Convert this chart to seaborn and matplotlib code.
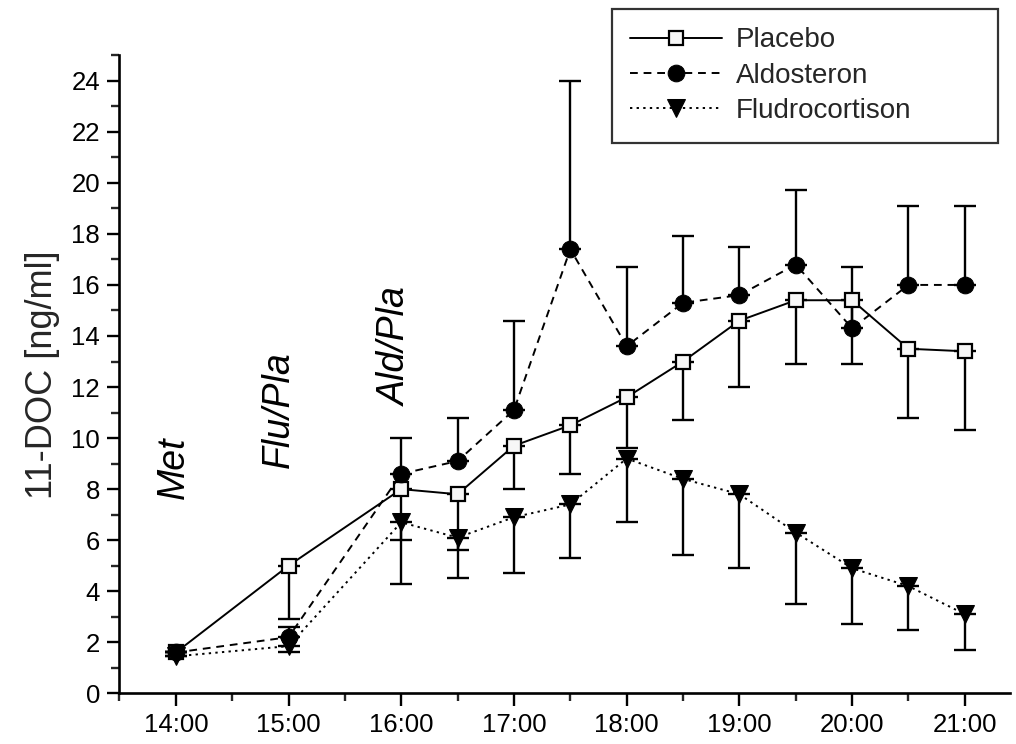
import numpy as np
import pandas as pd
import seaborn as sns
import matplotlib.pyplot as plt
from matplotlib.ticker import MultipleLocator, FuncFormatter

# hours after midnight
times = [14, 15, 16, 16.5, 17, 17.5, 18, 18.5, 19, 19.5, 20, 20.5, 21]

placebo = [1.6, 5.0, 8.0, 7.8, 9.7, 10.5, 11.6, 13.0, 14.6, 15.4, 15.4, 13.5, 13.4]
placebo_low = [1.6, 2.9, 6.0, 5.6, 8.0, 8.6, 9.6, 10.7, 12.0, 12.9, 12.9, 10.8, 10.3]

aldosteron = [1.6, 2.2, 8.6, 9.1, 11.1, 17.4, 13.6, 15.3, 15.6, 16.8, 14.3, 16.0, 16.0]
aldosteron_up = [1.6, 2.6, 10.0, 10.8, 14.6, 24.0, 16.7, 17.9, 17.5, 19.7, 16.7, 19.1, 19.1]

fludro = [1.45, 1.85, 6.7, 6.1, 6.9, 7.4, 9.2, 8.4, 7.8, 6.3, 4.9, 4.2, 3.1]
fludro_low = [1.45, 1.6, 4.3, 4.5, 4.7, 5.3, 6.7, 5.4, 4.9, 3.5, 2.7, 2.5, 1.7]

labels = ['Placebo', 'Aldosteron', 'Fludrocortison']
notes = ['Met', 'Flu/Pla', 'Ald/Pla']
note_x = [13.98, 14.91, 15.95]
note_y = [8.85, 11.1, 13.6]

sns.set_style('ticks')
plt.rcParams['font.family'] = ['Liberation Sans', 'DejaVu Sans']

df = pd.DataFrame({'time': times, 'Placebo': placebo, 'Aldosteron': aldosteron,
                   'Fludrocortison': fludro})

fig = plt.figure(figsize=(10.16, 7.44), dpi=100)
ax = fig.add_axes([0.1176, 0.0681, 0.8764, 0.8577])

# one-sided error bars
p = np.array(placebo)
a = np.array(aldosteron)
f = np.array(fludro)
eb = dict(fmt='none', ecolor='black', elinewidth=1.7, capsize=8, capthick=1.7, zorder=2)
ax.errorbar(times, p, yerr=[p - np.array(placebo_low), np.zeros_like(p)], **eb)
ax.errorbar(times, a, yerr=[np.zeros_like(a), np.array(aldosteron_up) - a], **eb)
ax.errorbar(times, f, yerr=[f - np.array(fludro_low), np.zeros_like(f)], **eb)

sns.lineplot(data=df, x='time', y='Placebo', ax=ax, color='black', lw=1.4,
             marker='s', markersize=10, markerfacecolor='#f7f7f7', markeredgecolor='black',
             markeredgewidth=1.6, linestyle='-', label=labels[0], zorder=3)
sns.lineplot(data=df, x='time', y='Aldosteron', ax=ax, color='black', lw=1.4,
             marker='o', markersize=12, markerfacecolor='black', markeredgecolor='black',
             dashes=(4, 3), label=labels[1], zorder=3)
sns.lineplot(data=df, x='time', y='Fludrocortison', ax=ax, color='black', lw=1.4,
             marker='v', markersize=13, markerfacecolor='black', markeredgecolor='black',
             dashes=(1.2, 2.2), label=labels[2], zorder=3)

for t, xx, yy in zip(notes, note_x, note_y):
    ax.text(xx, yy, t, rotation=90, ha='center', va='center', fontsize=27,
            style='italic', color='black')

ax.set_xlim(13.5, 21.4)
ax.set_ylim(0, 25)
ax.xaxis.set_major_locator(MultipleLocator(1))
ax.xaxis.set_minor_locator(MultipleLocator(0.5))
ax.yaxis.set_minor_locator(MultipleLocator(1))
ax.xaxis.set_major_formatter(FuncFormatter(lambda v, pos: '%d:00' % round(v)))
ax.set_yticks(np.arange(0, 25, 2))
ax.tick_params(which='major', direction='out', length=9, width=1.7, labelsize=18.5,
               colors='black', pad=5)
ax.tick_params(which='minor', direction='out', length=5.5, width=1.7)
ax.set_xlabel('')
ax.set_ylabel('11-DOC [ng/ml]', fontsize=26, labelpad=8)
sns.despine(ax=ax)
for s in ['left', 'bottom']:
    ax.spines[s].set_linewidth(1.9)
    ax.spines[s].set_color('black')

handles, labs = ax.get_legend_handles_labels()
ax.legend_.remove()
leg = fig.legend(handles, labs, loc='upper left',
                 bbox_to_anchor=(612 / 1016, 1 - 9 / 744, 386 / 1016, 0), mode='expand',
                 fontsize=20, frameon=True, fancybox=False, edgecolor='black',
                 handlelength=3.3, numpoints=1, borderpad=0.66, labelspacing=0.34,
                 handletextpad=0.5, borderaxespad=0)
leg.get_frame().set_linewidth(1.6)

plt.savefig('out.png', dpi=100)
